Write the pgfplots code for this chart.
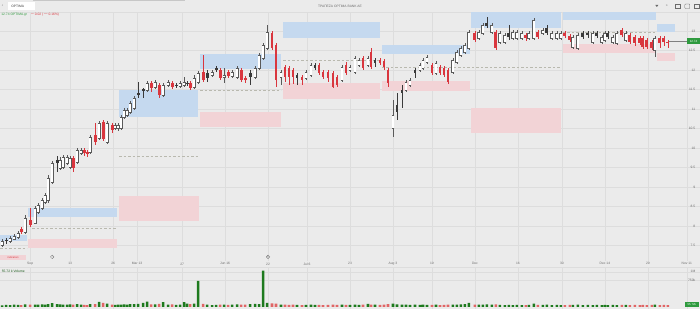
\documentclass[border=0pt]{standalone}
\usepackage{fontspec}
\setmainfont{Liberation Sans}
\usepackage{pgfplots}
\pgfplotsset{compat=1.18}
\definecolor{bg}{HTML}{EBEBEB}
\definecolor{gridc}{HTML}{DDDDDD}
\definecolor{zblue}{HTML}{C5D9EF}
\definecolor{zred}{HTML}{F2D3D6}
\definecolor{cred}{HTML}{D9363E}
\definecolor{cgray}{HTML}{5A5A5A}
\definecolor{cdark}{HTML}{3A3A3A}
\definecolor{vgreen}{HTML}{1E7A1E}
\definecolor{vred}{HTML}{E06666}
\definecolor{tgray}{HTML}{6A6A6A}
\definecolor{dashc}{HTML}{B9B9AF}
\definecolor{lgreen}{HTML}{2E9A3E}
\newcommand\tf{\fontsize{3.3}{4}\selectfont}
% candles: x, body low, body high, wick low, wick high
\newcommand\cR[5]{\addplot[cred, line width=0.5pt] coordinates {(#1,#4) (#1,#5)};
\addplot[cred, line width=2.9pt, line cap=butt] coordinates {(#1,#2) (#1,#3)};}
\newcommand\cD[5]{\addplot[cdark, line width=0.5pt] coordinates {(#1,#4) (#1,#5)};
\addplot[cdark, line width=2.9pt, line cap=butt] coordinates {(#1,#2) (#1,#3)};}
\newcommand\cW[5]{\addplot[cgray, line width=0.5pt] coordinates {(#1,#4) (#1,#5)};
\addplot[cgray, line width=2.9pt, line cap=butt] coordinates {(#1,#2) (#1,#3)};
\addplot[white, line width=1.9pt, line cap=butt] coordinates {(#1,#2) (#1,#3)};
\addplot[only marks, mark=-, mark size=1.45pt, mark options={cgray, line width=0.5pt}] coordinates {(#1,#2) (#1,#3)};}
\begin{document}
\begin{tikzpicture}
\fill[bg] (0,0) rectangle (700pt,309pt);
\fill[black!22] (33pt,308pt) rectangle (185pt,309pt);
\draw[gridc, line width=0.4pt] (0,297pt) -- (700pt,297pt);
% top bar
\fill[white] (8pt,299pt) rectangle (35pt,307pt);
\node[font=\tf, text=cdark, anchor=west, inner sep=0pt] at (1.5pt,303pt) {‹};
\node[font=\tf, text=cdark, anchor=west, inner sep=0pt] at (11pt,303pt) {OPTIMA};
\node[font=\tf, text=tgray, inner sep=0pt] at (340pt,303pt) {ΤΡΑΠΕΖΑ OPTIMA BANK ΑΕ};
\node[font=\tf, text=lgreen, anchor=west, inner sep=0pt] at (1pt,294.5pt) {12.74 OPTIMA.gr};
\node[font=\tf, text=cred, anchor=west, inner sep=0pt] at (29pt,294.5pt) {$-$0.02 ($-$0.16\%)};
\fill[tgray] (655.5pt,304pt) -- (658.5pt,304pt) -- (657pt,302pt) -- cycle;
\node[font=\tf, text=tgray, inner sep=0pt] at (667pt,303pt) {»};
\draw[tgray, line width=0.35pt] (675pt,300.5pt) rectangle (680pt,305pt);
\draw[tgray, line width=0.35pt, rounded corners=0.8pt] (685pt,300.5pt) rectangle (690pt,305pt);
\draw[tgray, line width=0.35pt] (694.5pt,300.5pt) rectangle (699.5pt,305pt);
% main price panel
\begin{axis}[at={(0pt,48pt)}, anchor=south west, width=700pt, height=249pt, scale only axis,
  xmin=0, xmax=700, ymin=7.103, ymax=13.487,
  axis line style={draw=none}, major tick length=0pt,
  xtick={30,70,113,137,182,225,268,307,350,393,432,475,518,562,605,648,687},
  xticklabels={Sep,13,26,Mar 13,27,Jun 16,22,Jul 6,23,Aug 3,19,Dec,16,30,Dec 14,29,Nov 11},
  xticklabel style={font=\tf, text=tgray, anchor=center, yshift=-3pt},
  ytick={7.5,8,8.5,9,9.5,10,10.5,11,11.5,12,12.5,13},
  yticklabel pos=right,
  yticklabel style={font=\tf, text=tgray, anchor=east, xshift=-1pt},
  /pgf/number format/assume math mode=true,
  grid=major, major grid style={gridc, line width=0.4pt}]
% zones
\addplot[fill=zblue, draw=none] coordinates {(0,7.769) (27,7.769) (27,7.615) (0,7.615)};
\addplot[fill=zblue, draw=none] coordinates {(28,8.462) (117,8.462) (117,8.231) (28,8.231)};
\addplot[fill=zred, draw=none] coordinates {(28,7.667) (117,7.667) (117,7.436) (28,7.436)};
\addplot[fill=zblue, draw=none] coordinates {(119,11.487) (198,11.487) (198,10.795) (119,10.795)};
\addplot[fill=zred, draw=none] coordinates {(119,8.769) (199,8.769) (199,8.128) (119,8.128)};
\addplot[fill=zblue, draw=none] coordinates {(200,12.41) (281,12.41) (281,12.026) (200,12.026)};
\addplot[fill=zred, draw=none] coordinates {(200,10.923) (281,10.923) (281,10.538) (200,10.538)};
\addplot[fill=zblue, draw=none] coordinates {(283,13.231) (380,13.231) (380,12.821) (283,12.821)};
\addplot[fill=zred, draw=none] coordinates {(283,11.667) (380,11.667) (380,11.256) (283,11.256)};
\addplot[fill=zblue, draw=none] coordinates {(382,12.641) (470,12.641) (470,12.41) (382,12.41)};
\addplot[fill=zred, draw=none] coordinates {(382,11.718) (470,11.718) (470,11.462) (382,11.462)};
\addplot[fill=zblue, draw=none] coordinates {(471,13.487) (561,13.487) (561,13.085) (471,13.085)};
\addplot[fill=zred, draw=none] coordinates {(471,11.033) (561,11.033) (561,10.392) (471,10.392)};
\addplot[fill=zblue, draw=none] coordinates {(563,13.479) (656,13.479) (656,13.282) (563,13.282)};
\addplot[fill=zred, draw=none] coordinates {(563,12.659) (656,12.659) (656,12.428) (563,12.428)};
\addplot[fill=zblue, draw=none] coordinates {(657,13.179) (675,13.179) (675,12.982) (657,12.982)};
\addplot[fill=zred, draw=none] coordinates {(657,12.444) (675,12.444) (675,12.238) (657,12.238)};
% dashed levels
\addplot[dashc, line width=0.45pt, dash pattern=on 2.5pt off 2pt] coordinates {(0,7.436) (27,7.436)};
\addplot[dashc, line width=0.45pt, dash pattern=on 2.5pt off 2pt] coordinates {(32,7.949) (117,7.949)};
\addplot[dashc, line width=0.45pt, dash pattern=on 2.5pt off 2pt] coordinates {(119,9.795) (199,9.795)};
\addplot[dashc, line width=0.45pt, dash pattern=on 2.5pt off 2pt] coordinates {(200,11.487) (281,11.487)};
\addplot[dashc, line width=0.45pt, dash pattern=on 2.5pt off 2pt] coordinates {(283,12.256) (380,12.256)};
\addplot[dashc, line width=0.45pt, dash pattern=on 2.5pt off 2pt] coordinates {(382,12.07) (560,12.07)};
\addplot[dashc, line width=0.45pt, dash pattern=on 2.5pt off 2pt] coordinates {(563,12.967) (656,12.967)};
\addplot[gray, line width=0.3pt] coordinates {(668,12.74) (688,12.74)};
\cW{2}{7.513}{7.615}{7.462}{7.667}
\cD{6}{7.615}{7.641}{7.539}{7.692}
\cW{10}{7.615}{7.692}{7.564}{7.744}
\cW{14}{7.667}{7.744}{7.641}{7.795}
\cW{18}{7.718}{7.821}{7.667}{7.872}
\cR{21}{7.846}{7.923}{7.795}{7.974}
\cW{25}{7.846}{8.205}{7.795}{8.282}
\cR{30}{8.026}{8.154}{7.974}{8.462}
\cW{35}{8.077}{8.462}{8.051}{8.513}
\cW{38}{8.359}{8.539}{8.308}{8.590}
\cW{42}{8.462}{8.667}{8.41}{8.718}
\cW{45}{8.615}{8.795}{8.564}{8.846}
\cW{48}{8.667}{9.231}{8.590}{9.308}
\cW{52}{9.128}{9.615}{9.077}{9.667}
\cD{57}{9.615}{9.692}{9.385}{9.795}
\cW{60}{9.487}{9.692}{9.436}{9.769}
\cW{63}{9.513}{9.769}{9.462}{9.821}
\cW{67}{9.615}{9.769}{9.564}{9.821}
\cW{70}{9.513}{9.744}{9.462}{9.795}
\cR{73}{9.487}{9.744}{9.385}{9.795}
\cW{77}{9.641}{9.949}{9.590}{10.0}
\cW{81}{9.872}{9.949}{9.821}{10.0}
\cR{84}{9.872}{9.949}{9.795}{10.0}
\cR{87}{9.846}{9.897}{9.769}{9.949}
\cW{90}{9.897}{10.282}{9.846}{10.333}
\cR{95}{10.154}{10.333}{10.077}{10.641}
\cW{99}{10.256}{10.641}{10.205}{10.692}
\cR{103}{10.231}{10.667}{10.179}{10.718}
\cW{107}{10.154}{10.641}{10.103}{10.692}
\cR{112}{10.462}{10.590}{10.385}{10.641}
\cW{115}{10.513}{10.590}{10.462}{10.641}
\cW{118}{10.513}{10.590}{10.436}{10.641}
\cW{121}{10.513}{10.795}{10.462}{10.846}
\cW{124}{10.795}{10.974}{10.744}{11.026}
\cW{127}{10.846}{10.974}{10.795}{11.026}
\cW{130}{10.923}{11.154}{10.872}{11.205}
\cW{134}{11.026}{11.282}{10.974}{11.333}
\cD{138}{11.359}{11.41}{11.282}{11.692}
\cD{143}{11.462}{11.513}{11.282}{11.538}
\cW{147}{11.487}{11.667}{11.436}{11.718}
\cR{151}{11.538}{11.667}{11.436}{11.718}
\cW{155}{11.564}{11.692}{11.513}{11.744}
\cR{159}{11.359}{11.615}{11.282}{11.667}
\cW{163}{11.359}{11.615}{11.308}{11.667}
\cW{168}{11.615}{11.692}{11.564}{11.744}
\cR{172}{11.564}{11.667}{11.513}{11.718}
\cD{176}{11.590}{11.615}{11.538}{11.667}
\cW{180}{11.590}{11.667}{11.538}{11.718}
\cW{184}{11.615}{11.692}{11.564}{11.821}
\cD{187}{11.641}{11.667}{11.590}{11.718}
\cR{190}{11.538}{11.667}{11.487}{11.718}
\cW{194}{11.564}{11.795}{11.513}{11.872}
\cW{198}{11.692}{11.923}{11.641}{11.974}
\cR{203}{11.744}{11.949}{11.692}{12.385}
\cD{207}{11.795}{11.923}{11.692}{12.0}
\cW{212}{11.872}{11.949}{11.821}{12.0}
\cD{216}{12.0}{12.051}{11.949}{12.103}
\cR{220}{11.795}{12.0}{11.744}{12.051}
\cW{224}{11.821}{11.872}{11.667}{12.051}
\cR{228}{11.846}{11.949}{11.795}{12.0}
\cW{232}{11.846}{11.949}{11.795}{12.0}
\cW{237}{11.821}{12.051}{11.769}{12.103}
\cR{241}{11.744}{12.0}{11.692}{12.051}
\cR{245}{11.744}{11.795}{11.667}{11.846}
\cD{250}{11.821}{11.923}{11.615}{12.0}
\cW{255}{11.821}{12.051}{11.769}{12.103}
\cW{259}{12.051}{12.385}{12.0}{12.436}
\cW{263}{12.308}{12.641}{12.256}{12.692}
\cW{267}{12.564}{12.974}{12.513}{13.154}
\cR{272}{12.564}{12.949}{12.513}{13.0}
\cR{276}{11.744}{12.641}{11.564}{12.692}
\cW{281}{11.821}{11.949}{11.615}{12.0}
\cR{285}{11.821}{12.077}{11.692}{12.128}
\cR{289}{11.821}{12.051}{11.615}{12.103}
\cR{293}{11.821}{12.0}{11.641}{12.051}
\cD{297}{11.795}{11.872}{11.615}{11.923}
\cR{302}{11.744}{11.821}{11.615}{11.872}
\cW{306}{11.795}{11.949}{11.744}{12.0}
\cW{311}{11.872}{12.128}{11.821}{12.179}
\cD{315}{12.051}{12.128}{12.0}{12.179}
\cR{319}{11.923}{12.128}{11.872}{12.179}
\cR{323}{11.821}{11.949}{11.769}{12.0}
\cR{328}{11.795}{11.949}{11.692}{12.0}
\cR{333}{11.564}{11.923}{11.538}{11.974}
\cR{337}{11.615}{11.821}{11.564}{11.872}
\cW{342}{11.744}{12.077}{11.692}{12.128}
\cR{346}{11.923}{12.128}{11.872}{12.205}
\cW{350}{12.0}{12.077}{11.949}{12.128}
\cW{355}{11.949}{12.308}{11.897}{12.359}
\cW{359}{12.128}{12.256}{12.077}{12.308}
\cR{363}{12.051}{12.308}{12.0}{12.359}
\cW{368}{12.128}{12.308}{12.077}{12.359}
\cR{371}{12.077}{12.462}{12.026}{12.564}
\cD{375}{12.179}{12.256}{12.077}{12.308}
\cR{380}{12.179}{12.256}{12.128}{12.308}
\cR{384}{12.077}{12.231}{12.0}{12.282}
\cR{388}{11.667}{12.0}{11.564}{12.051}
\cW{393}{10.513}{10.846}{10.282}{11.231}
\cD{397}{10.923}{11.103}{10.718}{11.41}
\cD{402}{11.41}{11.487}{11.026}{11.615}
\cW{406}{11.487}{11.692}{11.436}{11.744}
\cW{410}{11.615}{11.744}{11.564}{11.795}
\cD{415}{11.923}{12.0}{11.795}{12.051}
\cW{420}{12.0}{12.128}{11.949}{12.179}
\cW{423}{12.051}{12.256}{12.0}{12.308}
\cW{427}{12.205}{12.333}{12.154}{12.385}
\cR{432}{11.923}{12.128}{11.872}{12.179}
\cW{436}{11.923}{12.179}{11.872}{12.231}
\cR{440}{11.923}{12.077}{11.872}{12.128}
\cR{444}{11.872}{12.051}{11.821}{12.103}
\cR{448}{11.692}{12.0}{11.641}{12.051}
\cW{453}{11.949}{12.256}{11.897}{12.308}
\cW{457}{12.205}{12.462}{12.154}{12.513}
\cW{461}{12.385}{12.564}{12.333}{12.615}
\cW{465}{12.462}{12.641}{12.41}{12.692}
\cW{469}{12.564}{12.974}{12.513}{13.026}
\cR{475}{12.769}{12.949}{12.718}{13.0}
\cW{479}{12.821}{12.974}{12.769}{13.026}
\cW{483}{12.949}{13.154}{12.897}{13.205}
\cD{487}{13.128}{13.205}{13.077}{13.359}
\cW{492}{12.974}{13.154}{12.923}{13.205}
\cR{496}{12.564}{12.974}{12.513}{13.026}
\cW{500}{12.718}{12.949}{12.667}{13.0}
\cW{505}{12.718}{12.897}{12.667}{12.949}
\cD{509}{12.846}{12.949}{12.769}{13.154}
\cW{513}{12.821}{12.974}{12.769}{13.026}
\cW{517}{12.821}{12.974}{12.769}{13.026}
\cW{522}{12.821}{12.949}{12.769}{13.0}
\cR{526}{12.821}{12.897}{12.744}{12.949}
\cW{529}{12.821}{12.949}{12.769}{13.0}
\cW{534}{12.821}{13.282}{12.769}{13.333}
\cR{538}{12.846}{12.974}{12.795}{13.026}
\cW{543}{12.949}{13.026}{12.897}{13.077}
\cD{547}{12.949}{13.077}{12.897}{13.154}
\cW{552}{12.821}{12.949}{12.769}{13.0}
\cW{557}{12.821}{12.949}{12.769}{13.0}
\cW{561}{12.821}{12.949}{12.769}{13.0}
\cR{565}{12.872}{12.949}{12.821}{13.0}
\cR{570}{12.769}{12.872}{12.718}{12.923}
\cW{573}{12.590}{12.846}{12.538}{12.897}
\cW{578}{12.564}{12.897}{12.513}{12.949}
\cD{583}{12.846}{12.949}{12.795}{13.0}
\cD{588}{12.897}{12.949}{12.821}{13.0}
\cW{593}{12.718}{12.949}{12.667}{13.0}
\cD{597}{12.872}{12.949}{12.821}{13.0}
\cW{602}{12.718}{12.846}{12.667}{12.897}
\cW{605}{12.769}{12.949}{12.718}{13.0}
\cD{608}{12.846}{12.949}{12.795}{13.0}
\cW{613}{12.718}{12.846}{12.667}{12.897}
\cW{617}{12.692}{12.949}{12.641}{13.0}
\cR{622}{12.897}{13.026}{12.846}{13.077}
\cW{626}{12.769}{12.949}{12.718}{13.0}
\cR{630}{12.718}{12.897}{12.667}{12.949}
\cR{635}{12.692}{12.846}{12.615}{12.897}
\cR{640}{12.692}{12.821}{12.641}{12.872}
\cR{643}{12.590}{12.821}{12.538}{12.872}
\cR{647}{12.590}{12.769}{12.538}{12.821}
\cR{652}{12.564}{12.718}{12.513}{12.769}
\cW{655}{12.513}{12.821}{12.333}{12.872}
\cR{660}{12.692}{12.821}{12.564}{12.872}
\cR{664}{12.718}{12.821}{12.615}{12.872}
\cR{668}{12.692}{12.718}{12.564}{12.769}
\end{axis}
% panel decorations
\fill[zred] (0,49pt) rectangle (26pt,54pt);
\node[font=\fontsize{2.6}{3}\selectfont, text=cred, inner sep=0pt] at (13pt,51.5pt) {indicators};
\draw[tgray, line width=0.3pt] (52pt,52pt) circle (1.8pt);
\node[font=\fontsize{2.4}{3}\selectfont, text=tgray, inner sep=0pt] at (52pt,52pt) {i};
\draw[tgray, line width=0.3pt] (268pt,52pt) circle (1.8pt);
\node[font=\fontsize{2.4}{3}\selectfont, text=tgray, inner sep=0pt] at (268pt,52pt) {D};
\fill[lgreen] (687.5pt,264.5pt) rectangle (700pt,270.5pt);
\node[font=\fontsize{3}{3.5}\selectfont, text=white, inner sep=0pt] at (693.7pt,267.5pt) {12.74};
% volume panel
\begin{axis}[at={(0pt,0pt)}, anchor=south west, width=700pt, height=42pt, scale only axis,
  xmin=0, xmax=700, ymin=-57, ymax=1143,
  axis line style={draw=none}, major tick length=0pt,
  xtick={30,70,113,137,182,225,268,307,350,393,432,475,518,562,605,648,687},
  xticklabels={},
  ytick={750,1000}, yticklabels={750k,1M},
  yticklabel pos=right,
  yticklabel style={font=\tf, text=tgray, anchor=east, xshift=-1pt},
  grid=major, major grid style={gridc, line width=0.4pt}]
\addplot[ybar, bar width=2.6pt, bar shift=0pt, fill=vgreen, draw=none] coordinates {
(2,45) (6,55) (10,50) (14,60) (18,55) (25,70) (35,65) (38,60) (42,70) (45,65) (48,75) (52,105) (57,80) (60,70) (63,65) (67,60) (70,70) (77,75) (81,60) (90,80) (99,143) (107,90) (115,55) (118,60) (121,65) (124,70) (127,60) (130,75) (134,80) (138,85) (143,110) (147,150) (155,70) (163,134) (168,60) (176,55) (180,60) (184,134) (187,95) (194,90) (198,743) (207,60) (212,50) (216,55) (224,60) (232,65) (237,70) (250,80) (255,85) (259,80) (263,1037) (267,115) (281,60) (297,55) (306,55) (311,60) (315,55) (342,60) (350,55) (355,60) (359,55) (368,85) (375,60) (393,95) (397,70) (402,65) (406,60) (410,55) (415,60) (420,55) (423,60) (427,55) (436,60) (453,60) (457,65) (461,70) (465,75) (469,115) (479,60) (483,65) (487,70) (492,60) (500,55) (505,50) (509,55) (513,50) (517,55) (522,50) (529,55) (534,90) (543,55) (547,60) (552,50) (557,55) (561,50) (573,55) (578,60) (583,50) (588,55) (593,50) (597,55) (602,50) (605,55) (608,50) (613,55) (617,50) (626,55) (655,60)};
\addplot[ybar, bar width=2.6pt, bar shift=0pt, fill=vred, draw=none] coordinates {
(21,50) (30,60) (73,65) (84,55) (87,50) (95,80) (103,114) (112,60) (151,70) (159,85) (172,70) (190,80) (203,85) (220,60) (228,55) (241,65) (245,60) (272,100) (276,90) (285,60) (289,55) (293,60) (302,50) (319,55) (323,50) (328,55) (333,60) (337,55) (346,55) (363,60) (371,65) (380,55) (384,60) (388,75) (432,55) (440,50) (444,55) (448,60) (475,60) (496,70) (526,50) (538,55) (565,50) (570,55) (622,55) (630,50) (635,55) (640,50) (643,55) (647,50) (652,55) (660,50) (664,55) (668,50)};
\end{axis}
\draw[gridc, line width=0.4pt] (0,42pt) -- (700pt,42pt);
\node[font=\tf, text=vgreen!70!black, anchor=west, inner sep=0pt] at (1.5pt,38pt) {55.72 k Volume};
\fill[lgreen] (685pt,2pt) rectangle (699pt,7pt);
\node[font=\fontsize{2.8}{3.2}\selectfont, text=white, inner sep=0pt] at (692pt,4.5pt) {55.72k};
\end{tikzpicture}
\end{document}
